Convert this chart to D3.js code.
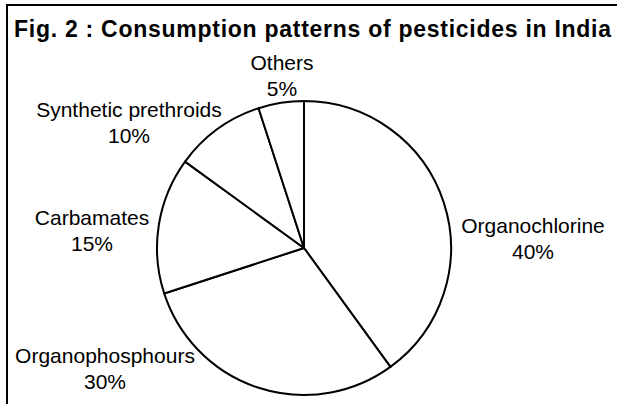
<!DOCTYPE html>
<html>
<head>
<meta charset="utf-8">
<script src="https://cdn.jsdelivr.net/npm/d3@7/dist/d3.min.js"></script>
<style>
  html, body { margin: 0; padding: 0; background: #fff; }
  text { font-family: "Liberation Sans", Arial, sans-serif; fill: #000; }
</style>
</head>
<body>
<div id="chart"></div>
<script>
'use strict';

var categories = ['Organochlorine', 'Organophosphours', 'Carbamates', 'Synthetic prethroids', 'Others'];
var shares = [40, 30, 15, 10, 5];
var shareLabels = ['40%', '30%', '15%', '10%', '5%'];
var titleText = 'Fig. 2 : Consumption patterns of pesticides in India';

// label anchor offsets from the pie centre (first line baseline)
var labelOffsets = [[229, -15], [-199, 115], [-212, -23], [-175, -131], [-22, -178]];

var chart = {
  draw: function() {
    var w, h, cx, cy, radius, lineGap, svg, pie, arc, slices, labels;

    w = 617;
    h = 404;
    cx = 304;
    cy = 248;
    radius = 147;
    lineGap = 26;

    svg = d3.select('#chart')
      .append('svg')
      .attr('width', w)
      .attr('height', h);

    // frame: top and left rules only
    svg.append('line')
      .attr('x1', 6).attr('y1', 5)
      .attr('x2', w).attr('y2', 5)
      .attr('stroke', '#000')
      .attr('stroke-width', 2);
    svg.append('line')
      .attr('x1', 7).attr('y1', 4)
      .attr('x2', 7).attr('y2', h)
      .attr('stroke', '#000')
      .attr('stroke-width', 2);

    svg.append('text')
      .attr('x', 14)
      .attr('y', 37)
      .attr('font-size', 23)
      .attr('font-weight', 'bold')
      .attr('textLength', 597)
      .attr('lengthAdjust', 'spacing')
      .text(titleText);

    pie = d3.pie().sort(null).value(function(d) { return d; });
    arc = d3.arc().innerRadius(0).outerRadius(radius);

    slices = svg.append('g')
      .attr('transform', 'translate(' + cx + ',' + cy + ')');

    slices.selectAll('path')
      .data(pie(shares))
      .enter()
      .append('path')
      .attr('d', arc)
      .attr('fill', '#fff')
      .attr('stroke', '#000')
      .attr('stroke-width', 2)
      .attr('stroke-linejoin', 'round');

    labels = svg.append('g')
      .attr('font-size', 21)
      .attr('text-anchor', 'middle');

    categories.forEach(function(name, i) {
      var x = cx + labelOffsets[i][0];
      var y = cy + labelOffsets[i][1];
      labels.append('text').attr('x', x).attr('y', y).text(name);
      labels.append('text').attr('x', x).attr('y', y + lineGap).text(shareLabels[i]);
    });
  }
};

chart.draw();
</script>
</body>
</html>
